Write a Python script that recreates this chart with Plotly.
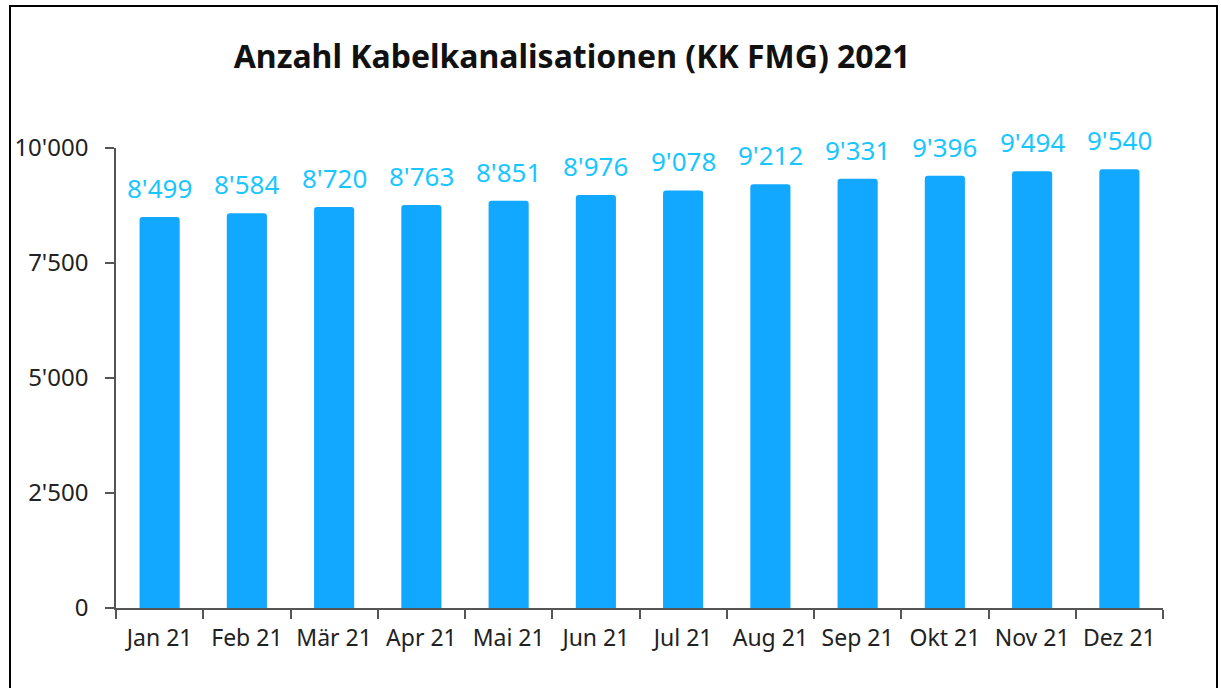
import plotly.graph_objects as go

months = ["Jan 21", "Feb 21", "Mär 21", "Apr 21", "Mai 21", "Jun 21",
          "Jul 21", "Aug 21", "Sep 21", "Okt 21", "Nov 21", "Dez 21"]
counts = [8499, 8584, 8720, 8763, 8851, 8976, 9078, 9212, 9331, 9396, 9494, 9540]
y_ticks = [0, 2500, 5000, 7500, 10000]

title_text = "Anzahl Kabelkanalisationen (KK FMG) 2021"

BAR = "#12A8FF"
LABEL = "#19C6FF"
AXIS = "#555555"
FONT = "Noto Sans"

fig = go.Figure()
fig.add_trace(go.Bar(
    x=months, y=counts,
    marker=dict(color=BAR, line=dict(width=0), cornerradius=3),
    width=0.46,
    hoverinfo="x+y",
))

for m, v in zip(months, counts):
    fig.add_annotation(
        x=m, y=v, xref="x", yref="y",
        text=f"{v:,}".replace(",", "'"),
        showarrow=False, yanchor="bottom", yshift=9,
        font=dict(family=FONT, size=26, color=LABEL),
    )

L, R, T, B = 116, 58, 148, 80
W, H = 1221, 688
pw, ph = W - L - R, H - T - B

fig.add_shape(type="rect", xref="paper", yref="paper",
              x0=(10 - L) / pw, x1=(1217 - L) / pw,
              y0=(H - B - 720) / ph, y1=(H - B - 6) / ph,
              line=dict(color="#000000", width=2), fillcolor="rgba(0,0,0,0)",
              layer="above")

fig.update_layout(
    width=W, height=H,
    margin=dict(l=L, r=R, t=T, b=B, autoexpand=False),
    paper_bgcolor="white", plot_bgcolor="white",
    separators=".'",
    showlegend=False,
    title=dict(text=title_text, x=(572 - L) / pw, xref="paper", xanchor="center",
               y=1 - 57 / H, yanchor="middle",
               font=dict(family=FONT, size=32, color="#111111", weight="bold")),
    font=dict(family=FONT, color="#222222"),
)
fig.update_xaxes(
    type="category", range=[-0.5, 11.5],
    showline=True, linecolor=AXIS, linewidth=1.5,
    ticks="outside", tickson="boundaries", ticklen=9, tickcolor=AXIS, tickwidth=1.5,
    tickfont=dict(family=FONT, size=23, color="#222222"),
    tickangle=0, automargin=False, ticklabelstandoff=9,
    showgrid=False,
)
fig.update_yaxes(
    range=[0, 10000], tickvals=y_ticks, tickformat=",d",
    showline=True, linecolor=AXIS, linewidth=1.5,
    ticks="outside", ticklen=9, tickcolor=AXIS, tickwidth=1.5,
    tickfont=dict(family=FONT, size=24, color="#222222"),
    automargin=False, ticklabelstandoff=12,
    showgrid=False, zeroline=False,
)

fig.write_html("out.html", config={"displayModeBar": False},
               post_script="document.body.style.margin='0';document.body.style.padding='0';document.body.style.overflow='hidden';")
